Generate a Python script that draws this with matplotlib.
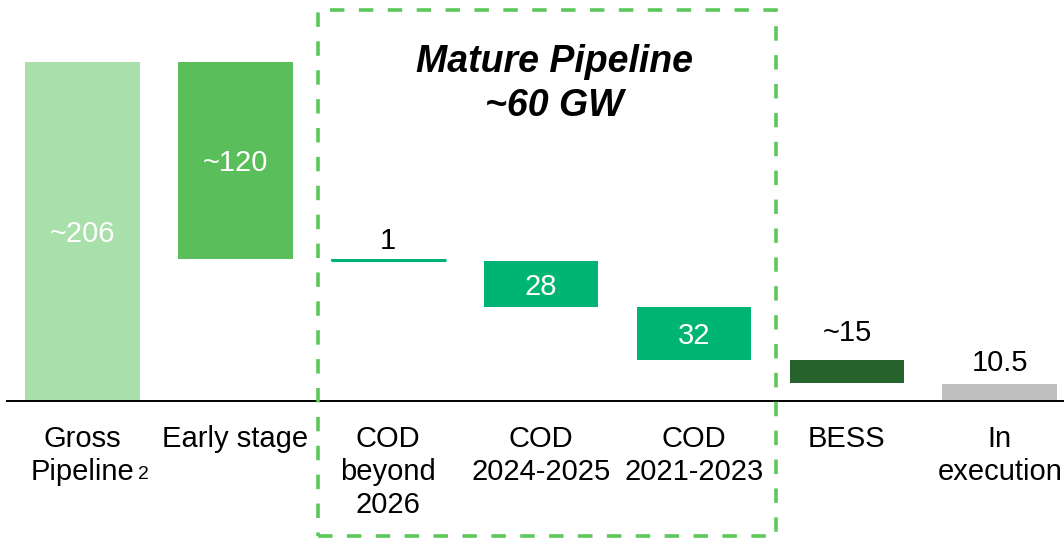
import matplotlib
matplotlib.use("Agg")
import matplotlib.pyplot as plt
from matplotlib.patches import Rectangle

plt.rcParams['font.family'] = ['Liberation Sans', 'DejaVu Sans']

# data
categories = ["Gross\nPipeline", "Early stage", "COD\nbeyond\n2026", "COD\n2024-2025",
              "COD\n2021-2023", "BESS", "In\nexecution"]
gross = 206
steps = [120, 1, 28, 32, 14]          # drawn decrements after gross
in_execution = 10.5
value_labels = ["~206", "~120", "1", "28", "32", "~15", "10.5"]
colors = ["#a9dfab", "#5abe5a", "#00b574", "#00b574", "#00b574", "#26622b", "#c0c0c0"]
label_inside = [True, True, False, True, True, False, False]
label_offset = [0, 0, 3, 0, 0, 9, 5]   # points above bar for outside labels

# waterfall geometry from the data
heights = [gross]
bottoms = [0]
level = gross
for s in steps:
    level -= s
    heights.append(s)
    bottoms.append(level)
heights.append(in_execution)
bottoms.append(0)

fig = plt.figure(figsize=(10.64, 5.4), dpi=100)
ax = fig.add_axes([6 / 1064, 0, 1058 / 1064, 1])
ax.set_xlim(-0.5, 6.42)
ax.set_ylim(-84.5, 243.7)
ax.axis("off")

x = list(range(len(categories)))
bars = ax.bar(x, heights, bottom=bottoms, width=0.75, color=colors, linewidth=0)
# the 1 GW step is tiny: draw it as a line
ax.plot([x[2] - 0.375, x[2] + 0.375], [bottoms[2] + 0.5] * 2, color=colors[2], lw=2.2,
        solid_capstyle="butt")
ax.axhline(0, color="black", lw=1.4)

for i, b in enumerate(bars):
    if label_inside[i]:
        ax.text(x[i], bottoms[i] + heights[i] / 2 - 1.5, value_labels[i], ha="center",
                va="center", color="white", fontsize=21)
    else:
        ax.annotate(value_labels[i], (x[i], bottoms[i] + heights[i]),
                    xytext=(0, label_offset[i]), textcoords="offset points",
                    ha="center", va="bottom", color="black", fontsize=21)

cat_texts = []
for i, c in enumerate(categories):
    t = ax.text(x[i], -14.8, c, ha="center", va="top", fontsize=21, linespacing=1.22)
    cat_texts.append(t)
ax.annotate("2", xy=(1, 0), xycoords=cat_texts[0], xytext=(3, 2),
            textcoords="offset points", ha="left", va="bottom", fontsize=14)

# mature pipeline box
fig.patches.append(Rectangle((318 / 1064, 1 - 536 / 540), 458 / 1064, 526 / 540,
                             transform=fig.transFigure, fill=False, edgecolor="#5cc85c",
                             lw=2.6, linestyle=(0, (4, 4)), joinstyle="miter"))
fig.text(554 / 1064, 1 - 84 / 540, "Mature Pipeline\n~60 GW", ha="center", va="center",
         fontsize=27, fontweight="bold", fontstyle="italic", linespacing=1.32)

fig.savefig("out.png", dpi=100)
